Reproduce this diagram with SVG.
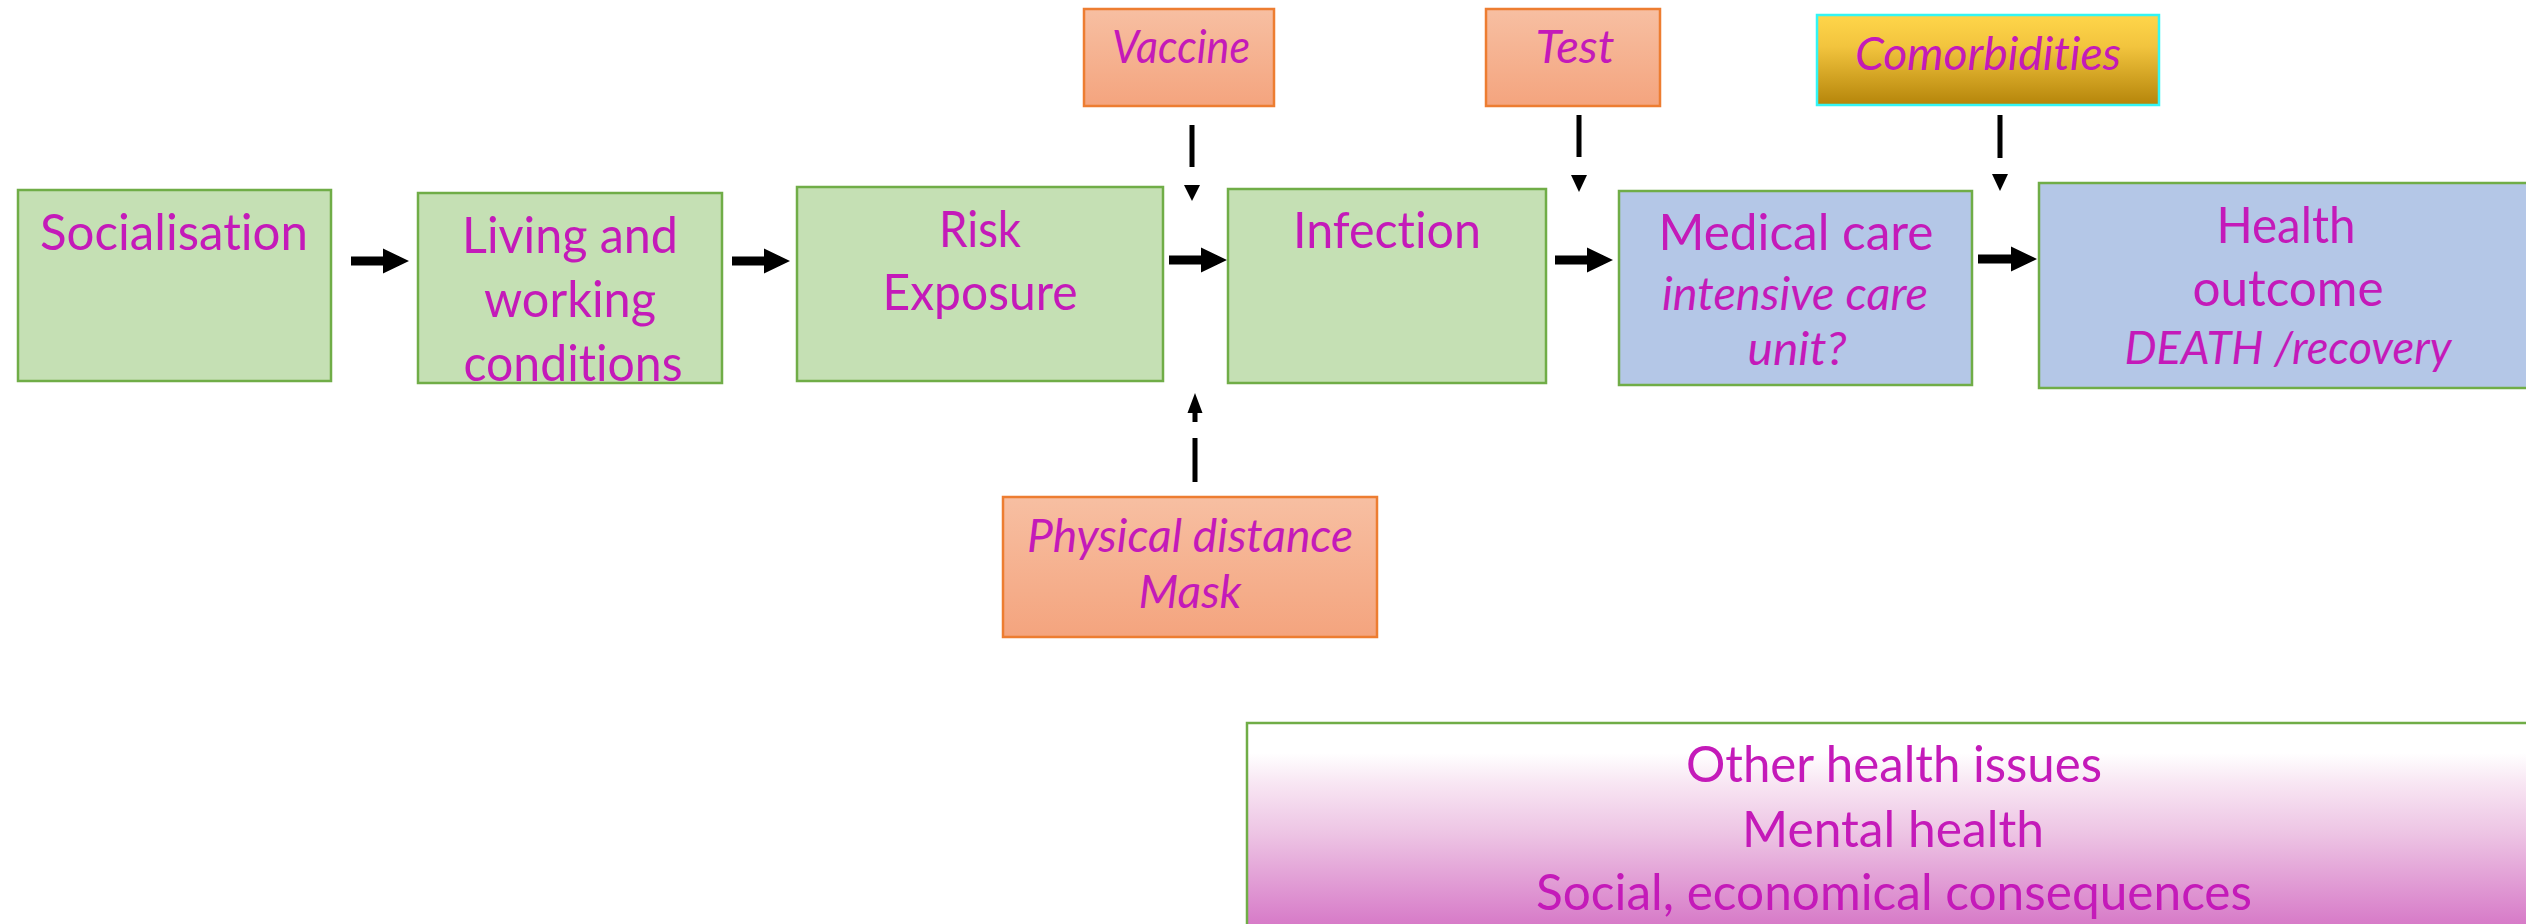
<svg xmlns="http://www.w3.org/2000/svg" width="2526" height="924" viewBox="0 0 2526 924">
<defs>
<style>
.t{font-family:Lato,"Open Sans","Liberation Sans",sans-serif;fill:#C41AB9;text-anchor:middle;font-variant-ligatures:none;}
.n{font-size:50px;}
.i{font-size:46px;font-style:italic;}
.g{fill:#C5E0B4;stroke:#70AD47;stroke-width:2.5;}
.b{fill:#B4C7E7;stroke:#70AD47;stroke-width:2.5;}
.o{fill:url(#og);stroke:#ED7D31;stroke-width:2.5;}
.bar{fill:#000;}
</style>
<linearGradient id="og" x1="0" y1="0" x2="0" y2="1">
<stop offset="0" stop-color="#F7BFA2"/>
<stop offset="1" stop-color="#F4A47E"/>
</linearGradient>
<linearGradient id="yg" x1="0" y1="0" x2="0" y2="1">
<stop offset="0" stop-color="#FFD64A"/>
<stop offset="0.35" stop-color="#F2C43E"/>
<stop offset="1" stop-color="#B5850A"/>
</linearGradient>
<linearGradient id="pg" gradientUnits="userSpaceOnUse" x1="0" y1="723" x2="0" y2="924">
<stop offset="0" stop-color="#FFFFFF"/>
<stop offset="0.15" stop-color="#FFFFFF"/>
<stop offset="0.3" stop-color="#F8E6F3"/>
<stop offset="0.55" stop-color="#EDC4E4"/>
<stop offset="1" stop-color="#D77BC8"/>
</linearGradient>
</defs>

<g id="connectors">
<polygon class="bar" points="351,256.5 383,256.5 383,248.5 409,261 383,273.5 383,265.5 351,265.5"/>
<polygon class="bar" points="732,256.5 764,256.5 764,248.5 790,261 764,273.5 764,265.5 732,265.5"/>
<polygon class="bar" points="1169,255.5 1201,255.5 1201,247.5 1227,260 1201,272.5 1201,264.5 1169,264.5"/>
<polygon class="bar" points="1555,255.5 1587,255.5 1587,247.5 1613,260 1587,272.5 1587,264.5 1555,264.5"/>
<polygon class="bar" points="1978,254.5 2011,254.5 2011,246.5 2037,259 2011,271.5 2011,263.5 1978,263.5"/>
<rect class="bar" x="1189.5" y="125" width="5" height="42"/>
<polygon class="bar" points="1184,185 1200,185 1192,201"/>
<rect class="bar" x="1576.5" y="115" width="5" height="42"/>
<polygon class="bar" points="1571,175 1587,175 1579,192"/>
<rect class="bar" x="1997.5" y="115" width="5" height="43"/>
<polygon class="bar" points="1992,174 2008,174 2000,191"/>
<rect class="bar" x="1192.5" y="438" width="5" height="44"/>
<rect class="bar" x="1192.5" y="410" width="5" height="12"/>
<polygon class="bar" points="1187.5,413 1202.5,413 1195,393"/>
</g>

<g id="socialisation">
<rect class="g" x="18" y="190" width="313" height="191"/>
<text class="t n" x="174" y="250" textLength="268" lengthAdjust="spacingAndGlyphs">Socialisation</text>
</g>

<g id="living">
<rect class="g" x="418" y="193" width="304" height="190"/>
<text class="t n" x="570" y="253" textLength="216" lengthAdjust="spacingAndGlyphs">Living and</text>
<text class="t n" x="570" y="317" textLength="172" lengthAdjust="spacingAndGlyphs">working</text>
<text class="t n" x="573" y="381" textLength="219" lengthAdjust="spacingAndGlyphs">conditions</text>
</g>

<g id="risk">
<rect class="g" x="797" y="187" width="366" height="194"/>
<text class="t n" x="980" y="247" textLength="82" lengthAdjust="spacingAndGlyphs">Risk</text>
<text class="t n" x="980" y="310" textLength="195" lengthAdjust="spacingAndGlyphs">Exposure</text>
</g>

<g id="infection">
<rect class="g" x="1228" y="189" width="318" height="194"/>
<text class="t n" x="1387" y="248" textLength="188" lengthAdjust="spacingAndGlyphs">Infection</text>
</g>

<g id="medical">
<rect class="b" x="1619" y="191" width="353" height="194"/>
<text class="t n" x="1796" y="250" textLength="275" lengthAdjust="spacingAndGlyphs">Medical care</text>
<text class="t i" x="1795" y="310" textLength="266" lengthAdjust="spacingAndGlyphs">intensive care</text>
<text class="t i" x="1797" y="365" textLength="99" lengthAdjust="spacingAndGlyphs">unit?</text>
</g>

<g id="health">
<rect class="b" x="2039" y="183" width="500" height="205"/>
<text class="t n" x="2286" y="243" textLength="139" lengthAdjust="spacingAndGlyphs">Health</text>
<text class="t n" x="2288" y="306" textLength="191" lengthAdjust="spacingAndGlyphs">outcome</text>
<text class="t i" x="2288" y="364" textLength="327" lengthAdjust="spacingAndGlyphs">DEATH /recovery</text>
</g>

<g id="vaccine">
<rect class="o" x="1084" y="9" width="190" height="97"/>
<text class="t i" x="1181" y="63" textLength="138" lengthAdjust="spacingAndGlyphs">Vaccine</text>
</g>

<g id="test">
<rect class="o" x="1486" y="9" width="174" height="97"/>
<text class="t i" x="1575" y="63" textLength="79" lengthAdjust="spacingAndGlyphs">Test</text>
</g>

<g id="comorbidities">
<rect x="1817" y="15" width="342" height="90" fill="url(#yg)" stroke="#33F5F5" stroke-width="2.5"/>
<text class="t i" x="1988" y="70" textLength="266" lengthAdjust="spacingAndGlyphs">Comorbidities</text>
</g>

<g id="physical">
<rect class="o" x="1003" y="497" width="374" height="140"/>
<text class="t i" x="1190" y="552" textLength="326" lengthAdjust="spacingAndGlyphs">Physical distance</text>
<text class="t i" x="1190" y="608" textLength="103" lengthAdjust="spacingAndGlyphs">Mask</text>
</g>

<g id="other">
<rect x="1247" y="723" width="1300" height="220" fill="url(#pg)" stroke="#70AD47" stroke-width="2.5"/>
<text class="t n" x="1894" y="782" textLength="416" lengthAdjust="spacingAndGlyphs">Other health issues</text>
<text class="t n" x="1893" y="847" textLength="302" lengthAdjust="spacingAndGlyphs">Mental health</text>
<text class="t n" x="1894" y="910" textLength="716" lengthAdjust="spacingAndGlyphs">Social, economical consequences</text>
</g>
</svg>
